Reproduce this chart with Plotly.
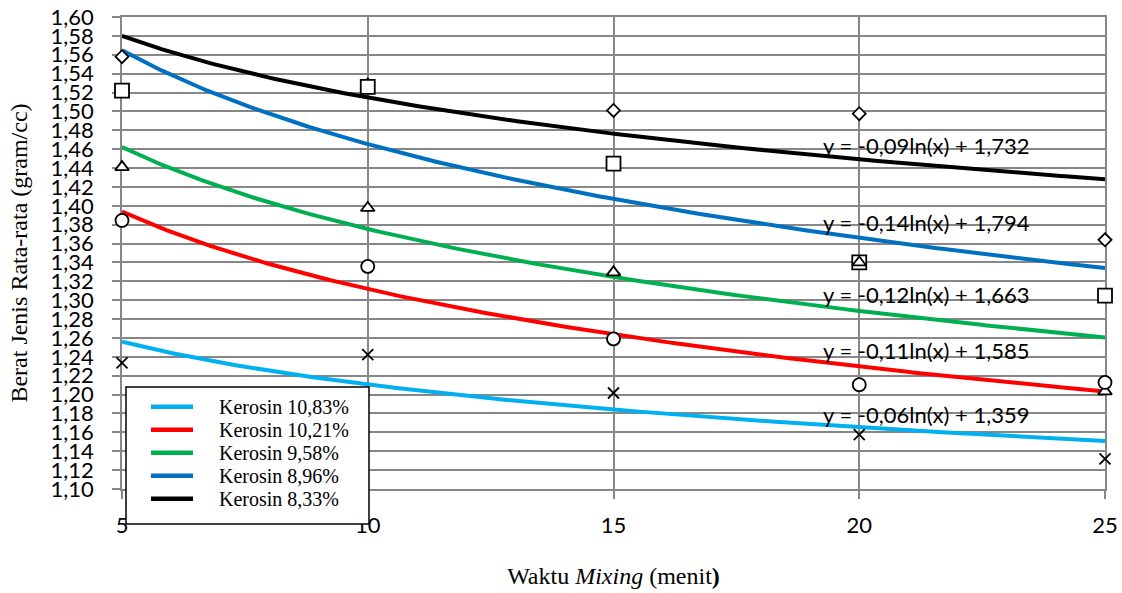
import numpy as np
import plotly.graph_objects as go

# Mixing time (minutes)
waktu = [5, 10, 15, 20, 25]

# Average specific gravity (gram/cc) per kerosene content
series_names = ["Kerosin 10,83%", "Kerosin 10,21%", "Kerosin 9,58%", "Kerosin 8,96%", "Kerosin 8,33%"]
bj_1083 = [1.2335, 1.2423, 1.2017, 1.1575, 1.1320]
bj_1021 = [1.3845, 1.3358, 1.2590, 1.2105, 1.2129]
bj_958 = [1.4410, 1.3977, 1.3295, 1.3400, 1.2034]
bj_896 = [1.5220, 1.5260, 1.4446, 1.3400, 1.3048]
bj_833 = [1.5580, 1.5280, 1.5010, 1.4976, 1.3640]

equations = [
    "y = -0,06ln(x) + 1,359",
    "y = -0,11ln(x) + 1,585",
    "y = -0,12ln(x) + 1,663",
    "y = -0,14ln(x) + 1,794",
    "y = -0,09ln(x) + 1,732",
]
eq_y = [1.1787, 1.247, 1.306, 1.3818, 1.464]

values = [bj_1083, bj_1021, bj_958, bj_896, bj_833]
line_colors = ["#00B0F0", "#FF0000", "#00B050", "#0070C0", "#000000"]
symbols = ["x-thin", "circle", "triangle-up", "square", "diamond"]
marker_sizes = [11, 13, 12, 14, 10]

W, H = 1122, 593
M_L, M_R, M_T, M_B = 122, 17, 17, 104
PW, PH = W - M_L - M_R, H - M_T - M_B


def px_x(p):
    return (p - M_L) / PW


def px_y(p):
    return (H - M_B - p) / PH


fig = go.Figure()

x_arr = np.array(waktu, dtype=float)
xs = np.linspace(5, 25, 200)

# logarithmic trend lines fitted to each series
for name, ys, col in zip(series_names, values, line_colors):
    slope, intercept = np.polyfit(np.log(x_arr), np.array(ys), 1)
    fig.add_trace(go.Scatter(
        x=xs, y=slope * np.log(xs) + intercept, mode="lines", name=name,
        showlegend=False, line=dict(color=col, width=4), hoverinfo="skip",
    ))

# measured points (white-filled markers, last series drawn first)
for ys, sym, sz in reversed(list(zip(values, symbols, marker_sizes))):
    fig.add_trace(go.Scatter(
        x=waktu, y=ys, mode="markers", showlegend=False, cliponaxis=False,
        marker=dict(symbol=sym, size=sz, color="white",
                    line=dict(color="black", width=1.8)),
    ))

# trend line equations
for txt, yv in zip(equations, eq_y):
    fig.add_annotation(x=21.36, y=yv, text=txt, showarrow=False,
                       xanchor="center", yanchor="middle",
                       font=dict(family="Lato", size=22, color="black"))

# legend box with line samples
fig.add_shape(type="rect", xref="paper", yref="paper", layer="above",
              x0=px_x(126), x1=px_x(369), y0=px_y(524), y1=px_y(387),
              fillcolor="white", line=dict(color="black", width=1.5))
for i, (name, col) in enumerate(zip(series_names, line_colors)):
    row = 406.7 + 23 * i
    fig.add_shape(type="line", xref="paper", yref="paper", layer="above",
                  x0=px_x(151), x1=px_x(193), y0=px_y(row), y1=px_y(row),
                  line=dict(color=col, width=4.5))
    fig.add_annotation(xref="paper", yref="paper", x=px_x(217), y=px_y(row),
                       text=name, showarrow=False, xanchor="left", yanchor="middle",
                       font=dict(family="Liberation Serif", size=20, color="black"))

grid = "#878787"
fig.update_layout(
    width=W, height=H,
    margin=dict(l=M_L, r=M_R, t=M_T, b=M_B),
    paper_bgcolor="white", plot_bgcolor="white",
    separators=", ",
    showlegend=False,
    xaxis=dict(
        range=[5, 25], tickvals=waktu, ticktext=[str(v) for v in waktu],
        showgrid=True, gridcolor=grid, gridwidth=1.5,
        showline=True, linecolor=grid, linewidth=1.5, mirror=True,
        ticks="outside", ticklen=8, tickcolor=grid, tickwidth=1.5,
        ticklabelstandoff=8, zeroline=False, automargin=False,
        layer="below traces",
        tickfont=dict(family="Lato", size=22, color="black"),
        title=dict(text="Waktu <i>Mixing</i> (menit<b>)</b>", standoff=30,
                   font=dict(family="Liberation Serif", size=24, color="black")),
    ),
    yaxis=dict(
        range=[1.10, 1.60], dtick=0.02, tick0=1.10, tickformat=".2f",
        showgrid=True, gridcolor=grid, gridwidth=1.5,
        showline=True, linecolor=grid, linewidth=1.5, mirror=True,
        ticks="outside", ticklen=8, tickcolor=grid, tickwidth=1.5,
        ticklabelstandoff=14, zeroline=False, automargin=False,
        layer="below traces",
        tickfont=dict(family="Lato", size=22, color="black"),
        title=dict(text="Berat Jenis Rata-rata (gram/cc)", standoff=16,
                   font=dict(family="Liberation Serif", size=24, color="black")),
    ),
)

fig.write_html("out.html")
